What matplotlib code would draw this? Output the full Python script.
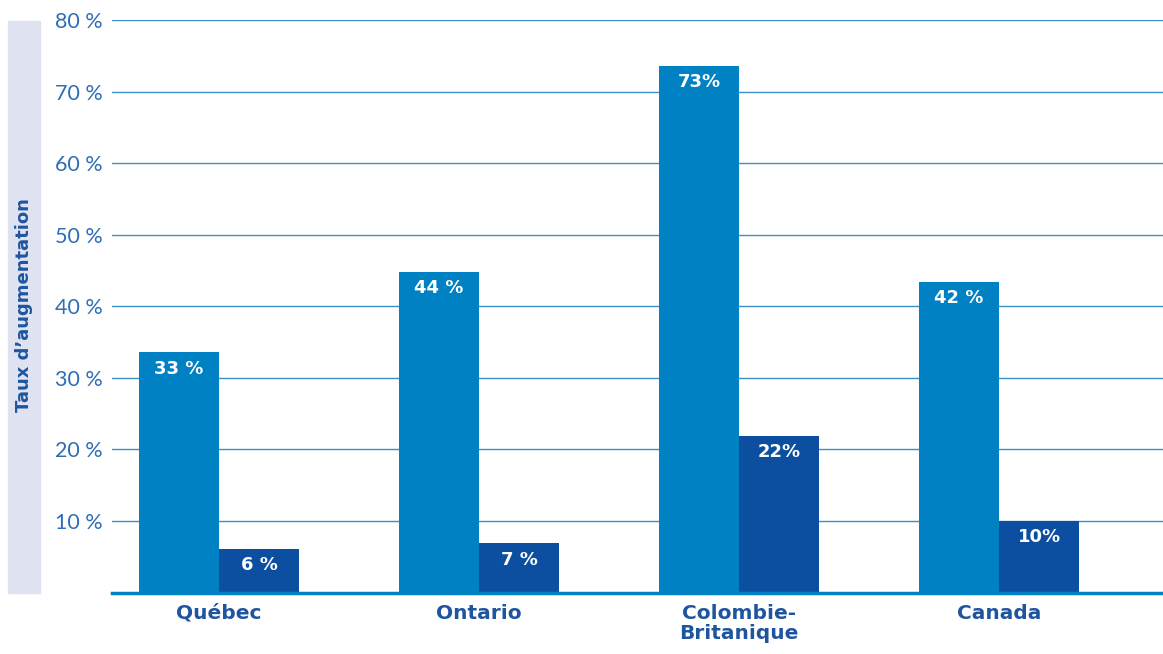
import numpy as np
import matplotlib.pyplot as plt
from matplotlib.patches import Rectangle

categories = ["Québec", "Ontario", "Colombie-\nBritanique", "Canada"]
serie_a = [33.6, 44.8, 73.6, 43.4]
serie_b = [6.1, 6.9, 21.9, 10.0]
labels_a = ["33 %", "44 %", "73%", "42 %"]
labels_b = ["6 %", "7 %", "22%", "10%"]
yticks = [10, 20, 30, 40, 50, 60, 70, 80]

light = "#0081c3"
dark = "#0c4fa0"
text_blue = "#1f55a0"
tick_blue = "#2f6db5"

fig = plt.figure(figsize=(11.63, 6.54), dpi=100)
ax = fig.add_axes([112 / 1163, 61.5 / 654, 1051 / 1163, 572.5 / 654])

x = np.arange(len(categories))
w = 80 / 260
ax.bar(x - w / 2, serie_a, width=w, color=light, zorder=3)
ax.bar(x + w / 2, serie_b, width=w, color=dark, zorder=3)

for xi, v, lab in zip(x - w / 2, serie_a, labels_a):
    ax.text(xi, v - 2.3, lab, ha="center", va="center", color="white",
            fontsize=13, fontweight="bold", zorder=4)
for xi, v, lab in zip(x + w / 2, serie_b, labels_b):
    ax.text(xi, v - 2.3, lab, ha="center", va="center", color="white",
            fontsize=13, fontweight="bold", zorder=4)

ax.set_xlim(-107 / 260, -107 / 260 + 1051 / 260)
ax.set_ylim(0, 80)
ax.set_yticks(yticks)
ax.set_yticklabels([f"{t} %" for t in yticks], color=tick_blue, fontsize=15.5,
                   fontfamily="Lato")
ax.yaxis.grid(True, color="#3a8fcb", linewidth=1.0, zorder=0)
ax.tick_params(axis="y", length=0, pad=7)
ax.tick_params(axis="x", length=0, pad=8)
ax.set_xticks(x)
ax.set_xticklabels(categories, color=text_blue, fontsize=14.5, fontweight="bold",
                   linespacing=1.1, va="top")
for s in ["top", "right", "left"]:
    ax.spines[s].set_visible(False)
ax.spines["bottom"].set_color(light)
ax.spines["bottom"].set_linewidth(2.5)
ax.spines["bottom"].set_zorder(5)

# bande grise derrière le titre de l'axe
fig.patches.append(Rectangle((8 / 1163, 61.5 / 654), 32 / 1163, 572 / 654,
                             transform=fig.transFigure, color="#dfe3f1", zorder=0))
fig.text(24 / 1163, 349 / 654, "Taux d\u2019augmentation", rotation=90,
         ha="center", va="center", color=text_blue, fontsize=13, fontweight="bold")

fig.savefig("out.png", dpi=100)
